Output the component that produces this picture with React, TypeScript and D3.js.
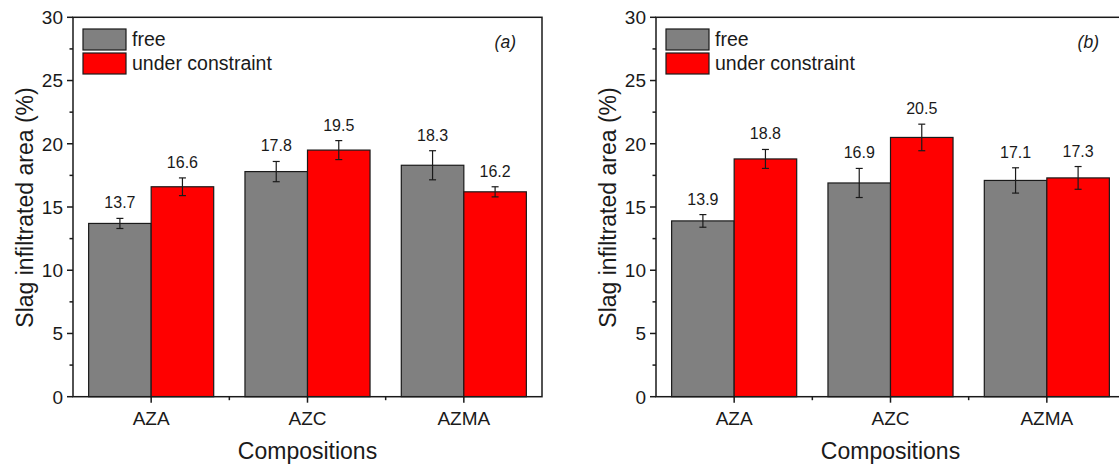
import React from "react";
import * as d3 from "d3";

const categories = ["AZA", "AZC", "AZMA"];
const freeA = [13.7, 17.8, 18.3];
const constraintA = [16.6, 19.5, 16.2];
const freeErrA = [0.4, 0.8, 1.15];
const constraintErrA = [0.7, 0.75, 0.4];
const freeB = [13.9, 16.9, 17.1];
const constraintB = [18.8, 20.5, 17.3];
const freeErrB = [0.5, 1.15, 1.0];
const constraintErrB = [0.75, 1.05, 0.9];
const yTicks = [0, 5, 10, 15, 20, 25, 30];
const yMinorTicks = [2.5, 7.5, 12.5, 17.5, 22.5, 27.5];
const seriesNames = ["free", "under constraint"];
const seriesColors = ["#808080", "#ff0000"];

const FONT = "Arial, 'Liberation Sans', Helvetica, sans-serif";

type PanelProps = {
  x0: number;
  label: string;
  free: number[];
  cons: number[];
  freeErr: number[];
  consErr: number[];
};

function Panel({ x0, label, free, cons, freeErr, consErr }: PanelProps) {
  const top = 17.3;
  const bottom = 396.7;
  const width = 469;
  const x1 = x0 + width;
  const y = d3.scaleLinear().domain([0, 30]).range([bottom, top]);
  const xb = d3.scaleBand<string>().domain(categories).range([x0, x1]).paddingInner(0).paddingOuter(0);
  const step = xb.step();
  const inner = d3.scaleBand<number>().domain([0, 1]).range([0, step * 0.8]);
  const bw = inner.bandwidth();
  const series = [
    { vals: free, errs: freeErr },
    { vals: cons, errs: consErr },
  ];
  const boundaries = d3.range(1, categories.length).map((i) => x0 + i * step);

  return (
    <g>
      {series.map((s, si) =>
        categories.map((c, ci) => {
          const bx = (xb(c) as number) + step * 0.1 + (inner(si) as number);
          const v = s.vals[ci];
          return (
            <rect
              key={`b${si}-${ci}`}
              x={bx}
              y={y(v)}
              width={bw}
              height={y(0) - y(v)}
              fill={seriesColors[si]}
              stroke="#1a1a1a"
              strokeWidth={1.2}
            />
          );
        })
      )}
      {series.map((s, si) =>
        categories.map((c, ci) => {
          const cx = (xb(c) as number) + step * 0.1 + (inner(si) as number) + bw / 2;
          const v = s.vals[ci];
          const e = s.errs[ci];
          const yt = y(v + e);
          const yb = y(v - e);
          return (
            <g key={`e${si}-${ci}`}>
              <line x1={cx} x2={cx} y1={yt} y2={yb} stroke="#1a1a1a" strokeWidth={1.2} />
              <line x1={cx - 3.5} x2={cx + 3.5} y1={yt} y2={yt} stroke="#1a1a1a" strokeWidth={1.2} />
              <line x1={cx - 3.5} x2={cx + 3.5} y1={yb} y2={yb} stroke="#1a1a1a" strokeWidth={1.2} />
              <text x={cx} y={yt - 10} textAnchor="middle" fontSize={16} fontFamily={FONT} fill="#1a1a1a">
                {v.toFixed(1)}
              </text>
            </g>
          );
        })
      )}
      <rect x={x0} y={top} width={width} height={bottom - top} fill="none" stroke="#1a1a1a" strokeWidth={1.5} />
      {yTicks.map((t) => (
        <g key={`yt${t}`}>
          <line x1={x0 - 6} x2={x0} y1={y(t)} y2={y(t)} stroke="#1a1a1a" strokeWidth={1.5} />
          <text
            x={x0 - 10}
            y={y(t)}
            dy="0.36em"
            textAnchor="end"
            fontSize={19}
            fontFamily={FONT}
            fill="#1a1a1a"
          >
            {t}
          </text>
        </g>
      ))}
      {yMinorTicks.map((t) => (
        <line key={`ym${t}`} x1={x0 - 3.5} x2={x0} y1={y(t)} y2={y(t)} stroke="#1a1a1a" strokeWidth={1.5} />
      ))}
      {categories.map((c) => {
        const cx = (xb(c) as number) + step / 2;
        return (
          <g key={`xt${c}`}>
            <line x1={cx} x2={cx} y1={bottom} y2={bottom + 6} stroke="#1a1a1a" strokeWidth={1.5} />
            <text x={cx} y={425} textAnchor="middle" fontSize={19} fontFamily={FONT} fill="#1a1a1a">
              {c}
            </text>
          </g>
        );
      })}
      {boundaries.map((b, i) => (
        <line key={`xm${i}`} x1={b} x2={b} y1={bottom} y2={bottom + 3.5} stroke="#1a1a1a" strokeWidth={1.5} />
      ))}
      <text
        x={x0 + width / 2}
        y={459}
        textAnchor="middle"
        fontSize={23}
        fontFamily={FONT}
        fill="#1a1a1a"
      >
        Compositions
      </text>
      <text
        transform={`translate(${x0 - 40},${207.5}) rotate(-90)`}
        textAnchor="middle"
        fontSize={23}
        fontFamily={FONT}
        fill="#1a1a1a"
      >
        Slag infiltrated area (%)
      </text>
      {seriesNames.map((n, i) => (
        <g key={`lg${i}`}>
          <rect
            x={x0 + 10}
            y={29 + i * 24}
            width={43}
            height={21}
            fill={seriesColors[i]}
            stroke="#1a1a1a"
            strokeWidth={1.2}
          />
          <text x={x0 + 59} y={46 + i * 24} fontSize={19.5} fontFamily={FONT} fill="#1a1a1a">
            {n}
          </text>
        </g>
      ))}
      <text
        x={x0 + 443}
        y={48}
        textAnchor="end"
        fontSize={17.5}
        fontStyle="italic"
        fontFamily={FONT}
        fill="#1a1a1a"
      >
        {label}
      </text>
    </g>
  );
}

export default function App() {
  return (
    <svg
      width={1119}
      height={465}
      style={{ position: "absolute", left: 0, top: 0, background: "#fff" }}
    >
      <rect x={0} y={0} width={1119} height={465} fill="#fff" />
      <Panel x0={73} label="(a)" free={freeA} cons={constraintA} freeErr={freeErrA} consErr={constraintErrA} />
      <Panel x0={656} label="(b)" free={freeB} cons={constraintB} freeErr={freeErrB} consErr={constraintErrB} />
    </svg>
  );
}
